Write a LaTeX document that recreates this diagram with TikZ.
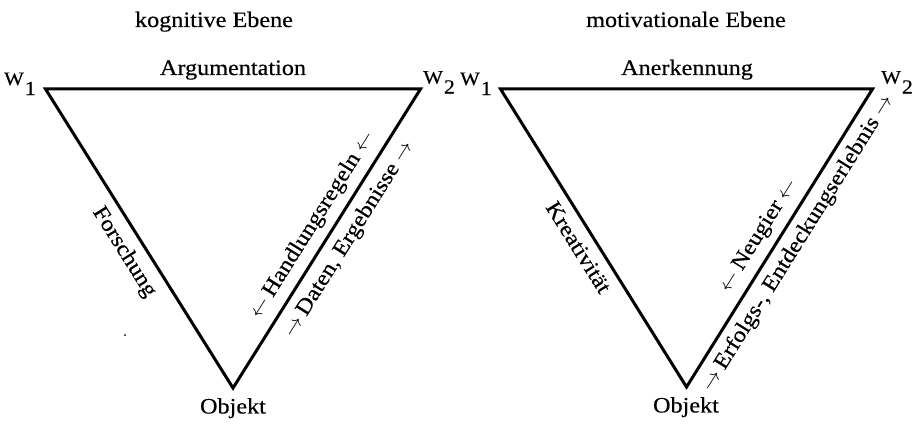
\documentclass[tikz,border=0pt]{standalone}
\usepackage{fontspec}
\setmainfont{Liberation Serif}[FakeStretch=1.1, FakeBold=0.4]
\newcommand{\myla}{{\fontsize{20}{20}\selectfont$\leftarrow$}}
\newcommand{\myra}{{\fontsize{20}{20}\selectfont$\rightarrow$}}
\newcommand{\Wlab}[1]{\raisebox{10pt}{\fontsize{19}{19}\selectfont W}\kern1pt{\fontsize{20}{20}\selectfont #1}}
\begin{document}
\begin{tikzpicture}[x=1pt,y=1pt,
  every node/.style={font=\fontsize{22}{26}\selectfont, inner sep=0pt},
  edge/.style={line width=3pt, line join=miter},
  lab/.style={sloped}]
\fill[white] (0,0) rectangle (915,424);
\useasboundingbox (0,0) rectangle (915,424);

% titles
\node[anchor=base] (t1) at (214,397) {kognitive Ebene};
\node[anchor=base] (t2) at (686,397) {motivationale Ebene};

% left triangle
\coordinate (L1) at (45.5,335);
\coordinate (L2) at (420.5,335);
\coordinate (LO) at (233,36);
\draw[edge] (L1) -- (L2) -- (LO) -- cycle;
\node[anchor=base east] (lw1) at (36,329) {\Wlab{1}};
\node[anchor=base west] (lw2) at (423,330.5) {\Wlab{2}};
\node[anchor=base] (la) at (233,349) {Argumentation};
\node[anchor=north] (lo) at (233,26) {Objekt};
\path (L1) -- (LO) node[lab, pos=0.51, below=10pt] (lf) {Forschung};
\path (LO) -- (L2) node[lab, pos=0.51, above=9pt] (lh) {\myla\hspace{5pt}Handlungsregeln\hspace{5pt}\myla};
\path (LO) -- (L2) node[lab, pos=0.53, below=9pt] (ld) {\myra\hspace{5pt}Daten, Ergebnisse\hspace{5pt}\myra};

% right triangle
\coordinate (R1) at (500.5,335);
\coordinate (R2) at (872.5,335);
\coordinate (RO) at (686.5,37);
\draw[edge] (R1) -- (R2) -- (RO) -- cycle;
\node[anchor=base east] (rw1) at (492,329) {\Wlab{1}};
\node[anchor=base west] (rw2) at (881,330.5) {\Wlab{2}};
\node[anchor=base] (ra) at (687,349) {Anerkennung};
\node[anchor=north] (ro) at (686,27) {Objekt};
\path (R1) -- (RO) node[lab, pos=0.5, below=10pt] (rk) {Kreativität};
\path (RO) -- (R2) node[lab, pos=0.474, above=9pt] (rn) {\myla\hspace{5pt}Neugier\hspace{5pt}\myla};
\path (RO) -- (R2) node[lab, pos=0.514, below=8pt] (re) {\myra\hspace{5pt}Erfolgs-, Entdeckungserlebnis\hspace{5pt}\myra};

% speck
\fill (125,89) circle (1pt);
\end{tikzpicture}
\end{document}
